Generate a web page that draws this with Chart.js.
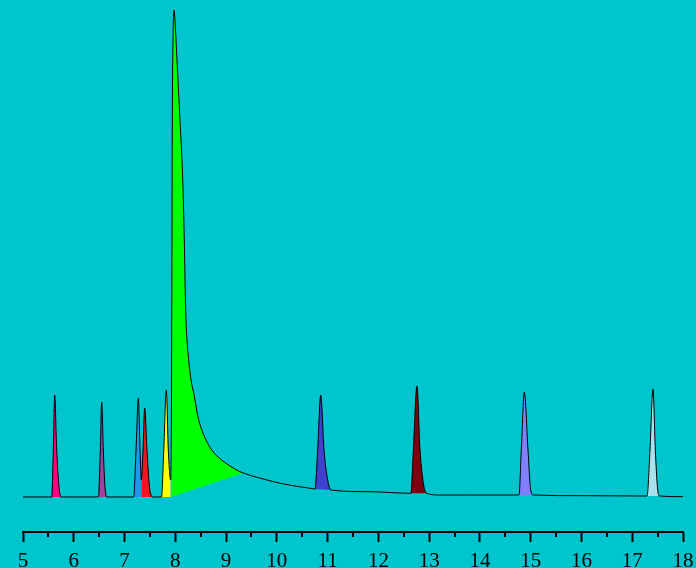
<!DOCTYPE html>
<html>
<head>
<meta charset="utf-8">
<script src="https://cdn.jsdelivr.net/npm/chart.js@4/dist/chart.umd.min.js"></script>
<style>
  html, body { margin: 0; padding: 0; background: #00C5CD; }
  #wrap { width: 696px; height: 568px; position: relative; }
</style>
</head>
<body>
<div id="wrap"><canvas id="chart-gc"></canvas></div>
<script>
// ─── DATA ────────────────────────────────────────────────────────────────────
// retention time (min) and detector signal
const retTime = [
  5.000, 5.565, 5.597, 5.624, 5.664, 5.709, 5.750, 6.000,
  6.485, 6.523, 6.550, 6.582, 6.615, 6.655, 7.000,
  7.180, 7.226, 7.272, 7.305, 7.330, 7.364, 7.397, 7.442, 7.492, 7.552,
  7.728, 7.773, 7.823, 7.862, 7.909,
  7.925, 7.941, 7.955, 7.974, 8.004, 8.033, 8.092, 8.146, 8.177, 8.195, 8.210,
  8.233, 8.270, 8.310, 8.370, 8.447, 8.545, 8.717, 8.914, 9.209, 9.339,
  9.668, 10.062, 10.456, 10.653,
  10.751, 10.804, 10.864, 10.929, 11.014, 11.067, 11.835,
  12.642, 12.688, 12.760, 12.820, 12.898, 12.952, 13.214, 13.800,
  14.770, 14.815, 14.874, 14.947, 15.000, 15.052, 16.000,
  17.291, 17.350, 17.409, 17.455, 17.498, 17.534, 18.000
];
const signal = [
  0, 0, 47, 102, 47, 10, 0, 0,
  0, 47, 95, 47, 10, 0, 0,
  0, 47, 99, 47, 17, 47, 89, 47, 10, 0,
  0, 47, 107, 47, 17,
  97, 377, 457, 487, 467, 437, 377, 317, 257, 207, 177,
  155, 134, 117, 102, 80, 64, 47, 37, 27, 24,
  18.9, 13.8, 10.2, 8.8,
  7.9, 47, 102, 47, 13.7, 7, 5.3,
  3.7, 47, 111, 47, 10.3, 3.7, 2, 2,
  2, 47, 105, 47, 7, 2, 1.3,
  1, 47, 108, 47, 9, 1, 0.3
];

// integrated peaks: start/end time, baseline at start/end, fill colour
const peakStart   = [5.565, 6.485, 7.180, 7.330, 7.728, 7.909, 10.751, 12.642, 14.770, 17.291];
const peakEnd     = [5.750, 6.655, 7.330, 7.552, 7.909, 9.339, 11.067, 12.952, 15.052, 17.534];
const baseAtStart = [0, 0, 0, 0, 0, 0, 7.9, 3.7, 2, 1];
const baseAtEnd   = [0, 0, 0, 0, 0, 24, 7, 3.7, 2, 1];
const peakColors  = ['#FF007F', '#A040A0', '#1A9AEA', '#F5141E', '#FFFF00',
                     '#00FF00', '#4040D0', '#800010', '#8080FF', '#A8E2EC'];

const xTicks = { min: 5, max: 18, step: 1 };

// ─── BUILD DATASETS ──────────────────────────────────────────────────────────
const trace = retTime.map((t, i) => ({ x: t, y: signal[i] }));

function buildDatasets() {
  const n = peakStart.length;
  const sets = [{
    data: trace,
    borderColor: '#000',
    borderWidth: 1,
    pointRadius: 0,
    fill: false,
    cubicInterpolationMode: 'monotone',
    order: 0
  }];
  // peak areas fill down to their own baseline dataset (index 1 + n + i)
  for (let i = 0; i < n; i++) {
    sets.push({
      data: trace.filter(p => p.x >= peakStart[i] && p.x <= peakEnd[i]),
      borderColor: 'transparent',
      backgroundColor: peakColors[i],
      pointRadius: 0,
      fill: 1 + n + i,
      cubicInterpolationMode: 'monotone',
      order: 1
    });
  }
  for (let i = 0; i < n; i++) {
    sets.push({
      data: [{ x: peakStart[i], y: baseAtStart[i] }, { x: peakEnd[i], y: baseAtEnd[i] }],
      borderColor: 'transparent',
      pointRadius: 0,
      fill: false,
      order: 2
    });
  }
  return sets;
}

// half-step minor ticks below the axis line
const minorTicks = {
  id: 'minorTicks',
  afterDraw(chart) {
    const sc = chart.scales.x;
    const ctx = chart.ctx;
    ctx.save();
    ctx.strokeStyle = '#000';
    ctx.lineWidth = 2;
    for (let v = xTicks.min + 0.5; v < xTicks.max; v += xTicks.step) {
      const px = Math.round(sc.getPixelForValue(v));
      ctx.beginPath();
      ctx.moveTo(px, sc.top);
      ctx.lineTo(px, sc.top + 5);
      ctx.stroke();
    }
    ctx.restore();
  }
};

// ─── CHART ───────────────────────────────────────────────────────────────────
function initChart() {
  new Chart(document.getElementById('chart-gc'), {
    type: 'line',
    data: { datasets: buildDatasets() },
    options: {
      responsive: true,
      maintainAspectRatio: false,
      animation: false,
      events: [],
      layout: { padding: { left: 23, right: 13, top: 0, bottom: 0 } },
      plugins: { legend: { display: false }, tooltip: { enabled: false } },
      scales: {
        x: {
          type: 'linear',
          position: 'bottom',
          min: xTicks.min,
          max: xTicks.max,
          afterFit: (s) => { s.height = 36; s.paddingLeft = 0; s.paddingRight = 0; },
          border: { display: true, color: '#000', width: 2 },
          grid: { drawOnChartArea: false, drawTicks: true, tickLength: 10, tickWidth: 2, tickColor: '#000' },
          ticks: {
            stepSize: xTicks.step,
            color: '#000',
            padding: 7,
            maxRotation: 0,
            font: { family: '"Liberation Serif", "Times New Roman", serif', size: 21 }
          }
        },
        y: { display: false, min: -35, max: 497 }
      }
    },
    plugins: [minorTicks]
  });
}

initChart();
</script>
</body>
</html>
